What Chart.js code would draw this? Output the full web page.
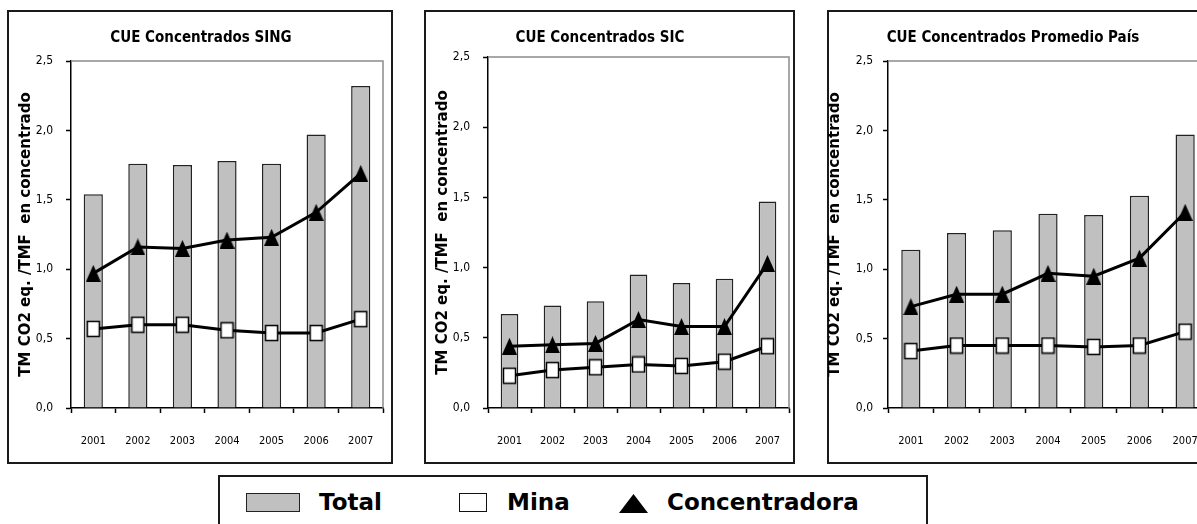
<!DOCTYPE html>
<html>
<head>
<meta charset="utf-8">
<script src="https://cdn.jsdelivr.net/npm/chart.js@4.4.1/dist/chart.umd.min.js"></script>
<style>
  html, body { margin: 0; padding: 0; background: #fff; }
  body { width: 1197px; height: 524px; overflow: hidden; position: relative; }
  .box { position: absolute; border: 2px solid #1a1a1a; box-sizing: border-box; }
  canvas.panel { position: absolute; }
  .lg { position: absolute; font: bold 23px 'DejaVu Sans', sans-serif; line-height: 23px; color: #000; white-space: nowrap; }
</style>
</head>
<body>
<div class="box" style="left:7px;top:10px;width:386px;height:454px"></div>
<div class="box" style="left:424px;top:10px;width:371px;height:454px"></div>
<div class="box" style="left:827px;top:10px;width:390px;height:454px"></div>
<canvas id="sing" class="panel" width="386" height="452" style="left:8px;top:11px"></canvas>
<canvas id="sic" class="panel" width="375" height="452" style="left:425px;top:11px"></canvas>
<canvas id="pais" class="panel" width="391" height="452" style="left:828px;top:11px"></canvas>

<!-- legend -->
<div class="box" style="left:218px;top:475px;width:710px;height:60px"></div>
<div style="position:absolute;left:246px;top:493px;width:54px;height:19px;background:#c0c0c0;border:1.5px solid #222;box-sizing:border-box"></div>
<div class="lg" style="left:319px;top:491px">Total</div>
<div style="position:absolute;left:459px;top:493px;width:28px;height:19px;background:#fff;border:1.5px solid #111;box-sizing:border-box"></div>
<div class="lg" style="left:507px;top:491px">Mina</div>
<svg style="position:absolute;left:619px;top:494px" width="29" height="19"><polygon points="14.5,0 29,19 0,19" fill="#000"/></svg>
<div class="lg" style="left:667px;top:491px">Concentradora</div>

<script>
// Categories
const years = ['2001', '2002', '2003', '2004', '2005', '2006', '2007'];

// SING
const singTotal = [1.54, 1.76, 1.75, 1.78, 1.76, 1.97, 2.32];
const singMina  = [0.57, 0.60, 0.60, 0.56, 0.54, 0.54, 0.64];
const singConc  = [0.97, 1.16, 1.15, 1.21, 1.23, 1.41, 1.69];

// SIC
const sicTotal = [0.67, 0.73, 0.76, 0.95, 0.89, 0.92, 1.47];
const sicMina  = [0.23, 0.27, 0.29, 0.31, 0.30, 0.33, 0.44];
const sicConc  = [0.44, 0.45, 0.46, 0.63, 0.58, 0.58, 1.03];

// Promedio país
const paisTotal = [1.14, 1.26, 1.28, 1.40, 1.39, 1.53, 1.97];
const paisMina  = [0.41, 0.45, 0.45, 0.45, 0.44, 0.45, 0.55];
const paisConc  = [0.73, 0.82, 0.82, 0.97, 0.95, 1.08, 1.41];

const yMax = 2.5;
const yStep = 0.5;
const yTitle = 'TM CO2 eq. /TMF  en concentrado';

const narrowFont = "'DejaVu Sans Condensed', 'Liberation Sans', sans-serif";

// marker glyphs (the original is a bit stretched vertically)
function squareMarker() {
  const c = document.createElement('canvas');
  c.width = 15; c.height = 18;
  const g = c.getContext('2d');
  g.fillStyle = '#fff';
  g.fillRect(1.5, 1.5, 12, 15);
  g.strokeStyle = '#000';
  g.lineWidth = 1.5;
  g.strokeRect(1.5, 1.5, 12, 15);
  return c;
}
function triangleMarker() {
  const c = document.createElement('canvas');
  c.width = 15; c.height = 17;
  const g = c.getContext('2d');
  g.fillStyle = '#000';
  g.beginPath();
  g.moveTo(7.5, 0);
  g.lineTo(15, 17);
  g.lineTo(0, 17);
  g.closePath();
  g.fill();
  return c;
}
const sq = squareMarker();
const tri = triangleMarker();

// gray top / right edge of the plot area
const plotFrame = {
  id: 'plotFrame',
  beforeDatasetsDraw(chart) {
    const { ctx, chartArea: a } = chart;
    ctx.save();
    ctx.strokeStyle = '#8c8c8c';
    ctx.lineWidth = 1.5;
    ctx.beginPath();
    ctx.moveTo(a.left, a.top);
    ctx.lineTo(a.right, a.top);
    ctx.lineTo(a.right, a.bottom);
    ctx.stroke();
    ctx.restore();
  }
};

function makePanel(id, title, total, mina, conc, cfg) {
  const ctx = document.getElementById(id).getContext('2d');
  return new Chart(ctx, {
    type: 'bar',
    data: {
      labels: years,
      datasets: [
        {
          type: 'line', label: 'Mina', data: mina, order: 2,
          borderColor: '#000', borderWidth: 3, tension: 0,
          pointStyle: sq, pointRadius: 8
        },
        {
          type: 'line', label: 'Concentradora', data: conc, order: 1,
          borderColor: '#000', borderWidth: 3, tension: 0,
          pointStyle: tri, pointRadius: 8
        },
        {
          label: 'Total', data: total, order: 3,
          backgroundColor: '#c0c0c0', borderColor: '#222', borderWidth: 1.5,
          barPercentage: cfg.barPct, categoryPercentage: 1
        }
      ]
    },
    options: {
      responsive: false,
      animation: false,
      layout: { padding: { left: cfg.padLeft, right: cfg.padRight, top: 0, bottom: 0 } },
      plugins: {
        legend: { display: false },
        tooltip: { enabled: false },
        title: {
          display: true, text: title, color: '#000',
          font: { family: narrowFont, size: 15, weight: 'bold' },
          padding: { top: 18, bottom: cfg.titleBottom }
        }
      },
      scales: {
        x: {
          offset: true,
          grid: { offset: true, drawOnChartArea: false, drawTicks: true, tickLength: 5, tickColor: '#000', tickWidth: 1.5 },
          border: { color: '#000', width: 1.5 },
          // tall line box pushes the year labels down
          ticks: { font: { family: narrowFont, size: 11, lineHeight: 5.2 }, color: '#000', padding: 0, maxRotation: 0, autoSkip: false },
          afterFit(scale) { scale.height = 55; }
        },
        y: {
          min: 0, max: yMax,
          grid: { drawOnChartArea: false, drawTicks: true, tickLength: 5, tickColor: '#000', tickWidth: 1.5 },
          border: { color: '#000', width: 1.5 },
          ticks: {
            stepSize: yStep, color: '#000', padding: cfg.tickPad,
            font: { family: narrowFont, size: 12 },
            callback: v => v.toFixed(1).replace('.', ',')
          },
          title: {
            display: true, text: yTitle, color: '#000',
            font: { family: "'DejaVu Sans', sans-serif", size: 15, weight: 'bold', lineHeight: 1 },
            padding: { top: cfg.yTitlePad, bottom: 0 }
          },
          afterFit(scale) { scale.width = cfg.yWidth; }
        }
      }
    },
    plugins: [plotFrame]
  });
}

makePanel('sing', 'CUE Concentrados SING', singTotal, singMina, singConc,
  { padLeft: 0, padRight: 0, titleBottom: 14, tickPad: 13, yTitlePad: 11, yWidth: 63, barPct: 0.43 });
makePanel('sic', 'CUE Concentrados SIC', sicTotal, sicMina, sicConc,
  { padLeft: -14, padRight: 11, titleBottom: 10, tickPad: 13, yTitlePad: 25, yWidth: 77, barPct: 0.41 });
makePanel('pais', 'CUE Concentrados Promedio País', paisTotal, paisMina, paisConc,
  { padLeft: -10, padRight: 11, titleBottom: 14, tickPad: 10, yTitlePad: 10, yWidth: 70, barPct: 0.42 });
</script>
</body>
</html>
